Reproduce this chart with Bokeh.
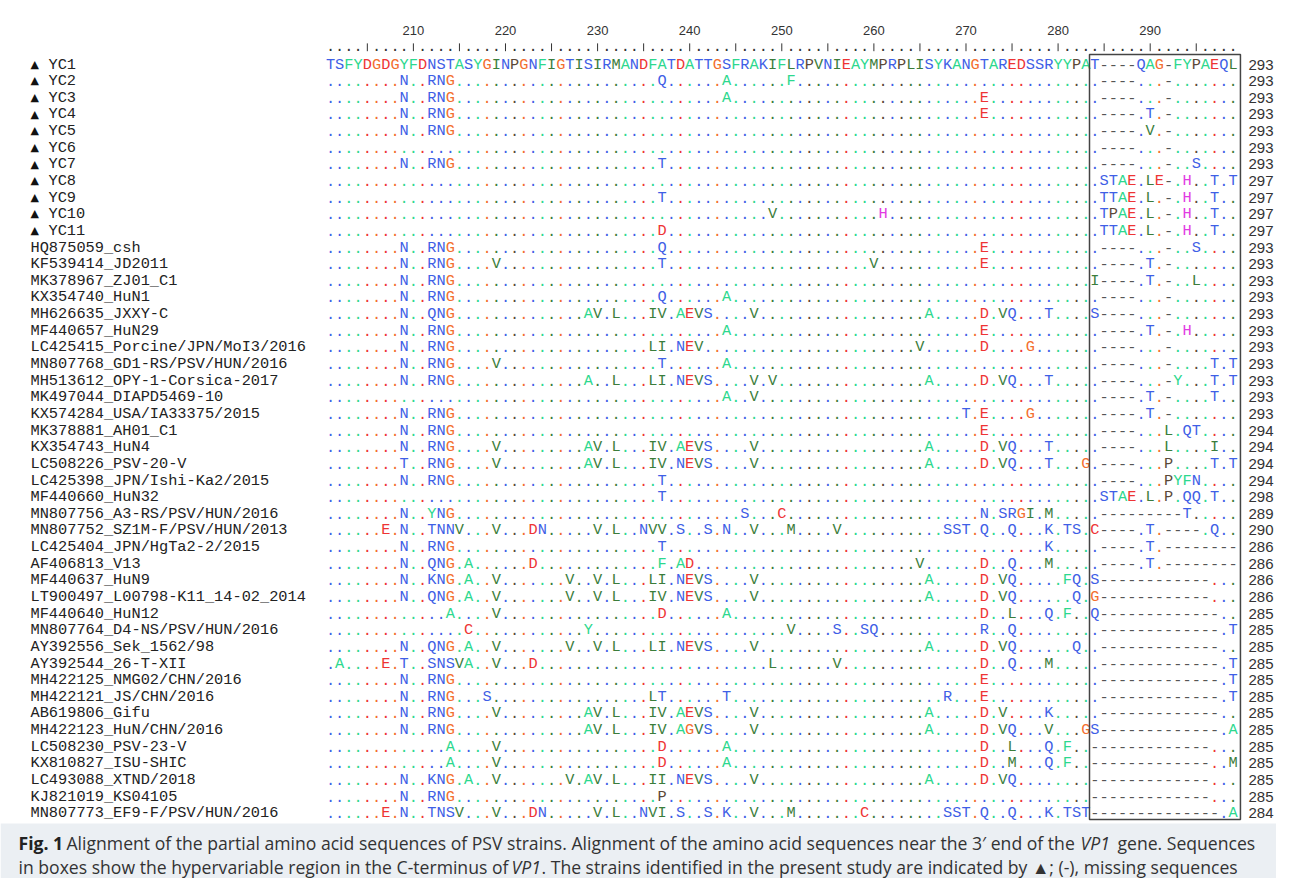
from bokeh.plotting import figure
from bokeh.models import Range1d, ColumnDataSource
from bokeh.core.properties import value
from bokeh.embed import file_html
from bokeh.resources import INLINE

# ---------------- data ----------------
FIRST_POS = 201
REFERENCE = "TSFYDGDGYFDNSTASYGINPGNFIGTISIRMANDFATDATTGSFRAKIFLRPVNIEAYMPRPLISYKANGTAREDSSRYYPAT----QAG-FYPAEQL"

STRAINS = [
    "YC1", "YC2", "YC3", "YC4", "YC5", "YC6", "YC7", "YC8", "YC9", "YC10", "YC11",
    "HQ875059_csh", "KF539414_JD2011", "MK378967_ZJ01_C1", "KX354740_HuN1",
    "MH626635_JXXY-C", "MF440657_HuN29", "LC425415_Porcine/JPN/MoI3/2016",
    "MN807768_GD1-RS/PSV/HUN/2016", "MH513612_OPY-1-Corsica-2017",
    "MK497044_DIAPD5469-10", "KX574284_USA/IA33375/2015", "MK378881_AH01_C1",
    "KX354743_HuN4", "LC508226_PSV-20-V", "LC425398_JPN/Ishi-Ka2/2015",
    "MF440660_HuN32", "MN807756_A3-RS/PSV/HUN/2016", "MN807752_SZ1M-F/PSV/HUN/2013",
    "LC425404_JPN/HgTa2-2/2015", "AF406813_V13", "MF440637_HuN9",
    "LT900497_L00798-K11_14-02_2014", "MF440640_HuN12", "MN807764_D4-NS/PSV/HUN/2016",
    "AY392556_Sek_1562/98", "AY392544_26-T-XII", "MH422125_NMG02/CHN/2016",
    "MH422121_JS/CHN/2016", "AB619806_Gifu", "MH422123_HuN/CHN/2016",
    "LC508230_PSV-23-V", "KX810827_ISU-SHIC", "LC493088_XTND/2018",
    "KJ821019_KS04105", "MN807773_EF9-F/PSV/HUN/2016",
]
NEW_STRAIN = [True] * 11 + [False] * 35

# differences from YC1 before the boxed region: "<column offset><residues>"
SUBSTITUTIONS = [
    "",
    "8N 11RNG 36Q 43A 50F",
    "8N 11RNG 43A 71E",
    "8N 11RNG 71E",
    "8N 11RNG",
    "",
    "8N 11RNG 36T",
    "",
    "36T",
    "48V 60H",
    "36D",
    "8N 11RNG 36Q 71E",
    "8N 11RNG 18V 36T 59V 71E",
    "8N 11RNG",
    "8N 11RNG 36Q 43A",
    "8N 11QNG 28AV 31L 35IV 38AEVS 46V 65A 71D 73VQ 78T",
    "8N 11RNG 43A 71E",
    "8N 11RNG 35LI 38NEV 64V 71D 76G",
    "8N 11RNG 18V 36T 43A",
    "8N 11RNG 28A 31L 35LI 38NEVS 46V 48V 65A 71D 73VQ 78T",
    "43A 46V",
    "8N 11RNG 69T 71E 76G",
    "8N 11RNG 71E",
    "8N 11RNG 18V 28AV 31L 35IV 38AEVS 46V 65A 71D 73VQ 78T",
    "8T 11RNG 18V 28AV 31L 35IV 38NEVS 46V 65A 71D 73VQ 78T 82G",
    "8N 11RNG 36T",
    "36T",
    "8N 11YNG 45S 49C 71N 73SRGI 78M",
    "6E 8N 11TNNV 18V 22DN 29V 31L 34NVV 38S 41S 43N 46V 50M 55V 67SST 71Q 74Q 78K 80TS",
    "8N 11RNG 36T 78K",
    "8N 11QNG 15A 22D 36F 38AD 64V 71D 74Q 78M",
    "8N 11KNG 15A 18V 26V 29V 31L 35LI 38NEVS 46V 65A 71D 73VQ 80FQ",
    "8N 11QNG 15A 18V 26V 29V 31L 35IV 38NEVS 46V 65A 71D 73VQ 81Q",
    "13A 18V 36D 43A 71D 74L 78Q 80F",
    "15C 28Y 50V 55S 58SQ 71R 74Q",
    "8N 11QNG 15A 18V 26V 29V 31L 35LI 38NEVS 46V 65A 71D 73VQ 81Q",
    "1A 6E 8T 11SNSVA 18V 22D 48L 55V 71D 74Q 78M",
    "8N 11RNG 71E",
    "8N 11RNG 17S 35LT 43T 67R 71E",
    "8N 11RNG 18V 28AV 31L 35IV 38AEVS 46V 65A 71D 73V 78K",
    "8N 11RNG 28AV 31L 35IV 38AGVS 46V 65A 71D 73VQ 78V 82G",
    "13A 18V 36D 43A 71D 74L 78Q 80F",
    "13A 18V 36D 43A 71D 74M 78Q 80F",
    "8N 11KNG 15A 18V 26V 28AV 31L 35II 38NEVS 46V 65A 71D 73VQ",
    "8N 11RNG 36P",
    "6E 8N 11TNSV 18V 22DN 29V 31L 34NVI 38S 41S 43K 46V 50M 58C 67SST 71Q 74Q 78K 80TST",
]

# boxed hypervariable region (columns 284-299)
BOXED = [
    "T----QAG-FYPAEQL",
    ".----...-.......", ".----...-.......", ".----.T.-.......", ".----.V.-.......",
    ".----...-.......", ".----...-..S....", ".STAE.LE-.H..T.T", ".TTAE.L.-.H..T..",
    ".TPAE.L.-.H..T..", ".TTAE.L.-.H..T..",
    ".----...-..S....", ".----.T.-.......", "I----.T.-..L....", ".----...-.......",
    "S----...-.......", ".----.T.-.H.....", ".----...-.......", ".----...-....T.T",
    ".----...-Y...T.T", ".----.T.-....T..", ".----.T.-.......", ".----...L.QT....",
    ".----...L....I..", ".----...P....T.T", ".----...PYFN....", ".STAE.L.P.QQ.T..",
    ".---------T.....", "C----.T.----.Q..", ".----.T.--------", ".----.T.--------",
    "S------------...", "G------------...", "Q-------------..", ".-------------.T",
    ".-------------..", ".-------------.T", ".-------------.T", ".-------------.T",
    ".-------------..", "S-------------.A", "-------------...", "-------------..M",
    "-------------...", "-------------...", "--------------.A",
]
BOX_FIRST_POS = 284

END_NUMBERS = [293] * 7 + [297] * 4 + [293] * 11 + [294] * 4 + [298, 289, 290] + \
    [286] * 4 + [285] * 12 + [284]

RULER_LABELS = [210, 220, 230, 240, 250, 260, 270, 280, 290]

CAPTION_BOLD = "Fig. 1"
CAPTION_1A = "Alignment of the partial amino acid sequences of PSV strains. Alignment of the amino acid sequences near the 3\u2032 end of the"
CAPTION_1B = "VP1"
CAPTION_1C = "gene. Sequences"
CAPTION_2A = "in boxes show the hypervariable region in the C-terminus of"
CAPTION_2B = "VP1"
CAPTION_2C = ". The strains identified in the present study are indicated by \u25b2; (-), missing sequences"

# ---------------- colours ----------------
BLUE, MINT, DKGREEN, RED, ORANGE, BROWN, MAGENTA, GAP = (
    "#3f5fe6", "#2dd88e", "#3b7d3b", "#ee3434", "#f36e2e", "#5b4838", "#e23be2", "#555555")
COLOR = {}
for ch in "STNQKR":
    COLOR[ch] = BLUE
for ch in "AFYW":
    COLOR[ch] = MINT
for ch in "ILVM":
    COLOR[ch] = DKGREEN
for ch in "DEC":
    COLOR[ch] = RED
COLOR["G"] = ORANGE
COLOR["P"] = BROWN
COLOR["H"] = MAGENTA
COLOR["-"] = GAP


def build_row(subs, boxed):
    row = ["."] * (BOX_FIRST_POS - FIRST_POS)
    for tok in subs.split():
        k = 0
        while tok[k].isdigit():
            k += 1
        start = int(tok[:k])
        for j, ch in enumerate(tok[k:]):
            row[start + j] = ch
    return "".join(row) + boxed


rows = []
for i, (subs, boxed) in enumerate(zip(SUBSTITUTIONS, BOXED)):
    rows.append(REFERENCE if i == 0 else build_row(subs, boxed))

N_COLS = len(REFERENCE)
LAST_POS = FIRST_POS + N_COLS - 1

xs, ys, ts, cs = [], [], [], []
for r, row in enumerate(rows):
    for c, ch in enumerate(row):
        xs.append(FIRST_POS + c)
        ys.append(r)
        ts.append(ch)
        if ch == ".":
            cs.append(COLOR.get(REFERENCE[c], GAP))
        else:
            cs.append(COLOR.get(ch, GAP))

seq_src = ColumnDataSource(dict(x=xs, y=ys, text=ts, color=cs))

# ---------------- figure ----------------
W, H = 1276, 878
PX = 9.21    # page px per column
ROW = 16.64  # page px per row
x0 = FIRST_POS + (0 - 330) / PX
y_top = (0 - 64) / ROW
x1 = x0 + W / PX
y_bot = y_top + H / ROW
p = figure(width=W, height=H, output_backend="svg", toolbar_location=None,
           x_range=Range1d(x0, x1), y_range=Range1d(y_bot, y_top),
           x_axis_location=None, y_axis_location=None, min_border=0,
           outline_line_color=None, background_fill_color="white", border_fill_color="white")
p.xgrid.visible = False
p.ygrid.visible = False

MONO = value("Liberation Mono")
SANS = value("Liberation Sans")
FS = "15.3px"


def px_to_x(px):
    return FIRST_POS + (px - 330) / PX


def py_to_y(py):
    return (py - 64) / ROW


# caption band
p.quad(left=x0, right=x1, top=py_to_y(823), bottom=y_bot,
       fill_color="#ebeff3", line_color=None)

# sequences
p.text(x="x", y="y", text="text", source=seq_src, text_color="color",
       text_font=MONO, text_font_size=FS, text_align="center", text_baseline="middle")

# ruler
ruler_pos = list(range(FIRST_POS, LAST_POS + 1))
dot_pos = [q for q in ruler_pos if q % 5]
tick_pos = [q for q in ruler_pos if q % 5 == 0]
p.text(x=dot_pos, y=[-1.12] * len(dot_pos), text=["."] * len(dot_pos),
       text_font=MONO, text_font_size=FS, text_align="center",
       text_baseline="middle", text_color="#333333")
p.segment(x0=tick_pos, x1=tick_pos, y0=[-1.27] * len(tick_pos), y1=[-0.80] * len(tick_pos),
          line_color="#333333", line_width=1)
p.text(x=RULER_LABELS, y=[-2.04] * len(RULER_LABELS), text=[str(v) for v in RULER_LABELS],
       text_font=SANS, text_font_size="13px", text_align="center",
       text_baseline="middle", text_color="#333333")

# boxed region
p.quad(left=BOX_FIRST_POS - 0.59, right=LAST_POS + 0.8, top=-0.60, bottom=45.37,
       fill_color=None, line_color="#444444", line_width=1.5)

# names
row_idx = list(range(len(STRAINS)))
new_rows = [r for r in row_idx if NEW_STRAIN[r]]
old_rows = [r for r in row_idx if not NEW_STRAIN[r]]
name_x = px_to_x(30)
p.text(x=[name_x + 0.45] * len(new_rows), y=[r - 0.02 for r in new_rows],
       text=["\u25b2"] * len(new_rows), text_font=value("DejaVu Sans"),
       text_font_size="11px", text_align="center", text_baseline="middle",
       text_color="#111111")
p.text(x=[name_x + 1.95] * len(new_rows), y=new_rows,
       text=[STRAINS[r] for r in new_rows], text_font=MONO, text_font_size=FS,
       text_align="left", text_baseline="middle", text_color="#222222")
p.text(x=[name_x] * len(old_rows), y=old_rows,
       text=[STRAINS[r] for r in old_rows], text_font=MONO, text_font_size=FS,
       text_align="left", text_baseline="middle", text_color="#222222")

# end numbers
p.text(x=[px_to_x(1248)] * len(row_idx), y=row_idx,
       text=[str(v) for v in END_NUMBERS], text_font=SANS, text_font_size="15px",
       text_align="left", text_baseline="middle", text_color="#333333")

# caption
l1, l2 = py_to_y(842), py_to_y(866)
CAP_FONT = value("Open Sans")
CAP_SIZE = "17.6px"
cap_parts = [
    (18, l1, CAPTION_BOLD, "bold"),
    (66, l1, CAPTION_1A, "normal"),
    (1080, l1, CAPTION_1B, "italic"),
    (1117, l1, CAPTION_1C, "normal"),
    (18, l2, CAPTION_2A, "normal"),
    (511, l2, CAPTION_2B, "italic"),
    (541, l2, CAPTION_2C, "normal"),
]
for px, yy, txt, style in cap_parts:
    p.text(x=[px_to_x(px)], y=[yy], text=[txt], text_font=CAP_FONT, text_font_size=CAP_SIZE,
           text_font_style=style, text_baseline="middle",
           text_color="#222222" if style == "bold" else "#333333")

open("out.html", "w").write(file_html(p, INLINE))
